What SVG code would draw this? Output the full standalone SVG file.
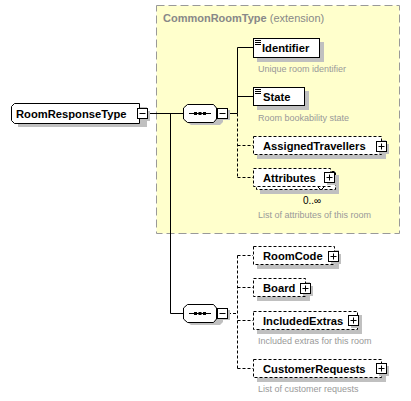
<svg xmlns="http://www.w3.org/2000/svg" width="411" height="401" viewBox="0 0 411 401">
<defs>
<style>
.lbl{font-family:"Liberation Sans",Arial,sans-serif;font-size:11.2px;font-weight:bold;fill:#000}
.desc{font-family:"Liberation Sans",Arial,sans-serif;font-size:9px;fill:#999}
.box{fill:#fff;stroke:#000;stroke-width:1}
.opt{fill:#fff;stroke:#000;stroke-width:1;stroke-dasharray:3,2}
.shd{fill:#c0c0c0}
.ln{stroke:#000;stroke-width:1;fill:none}
.dln{stroke:#000;stroke-width:1;fill:none;stroke-dasharray:3,2}
.btn{fill:#fff;stroke:#000;stroke-width:1}
</style>
</defs>
<rect x="0" y="0" width="411" height="401" fill="#fff"/>
<g id="extension">
<rect x="156.5" y="5.5" width="243" height="228" fill="#ffffcc" stroke="#999" stroke-dasharray="8,4"/>
<text x="163" y="22" font-family="Liberation Sans,Arial,sans-serif" font-size="11px" fill="#888"><tspan font-weight="bold">CommonRoomType</tspan> (extension)</text>
</g>
<g id="connectors">
<path class="ln" d="M148,113.5H183M170.5,113.5V313.5H183"/>
<path class="ln" d="M228,113.5H237.5V47.5H253M237.5,96.5H253"/>
<path class="dln" d="M237.5,113.5V177.5M237.5,145.5H253M237.5,177.5H253"/>
<path class="dln" d="M228,313.5H237.5M237.5,255.5V368.5M237.5,255.5H253M237.5,287.5H253M237.5,320.5H253M237.5,368.5H253"/>
</g>
<g id="RoomResponseType">
<path class="shd" d="M18,107H147V127H18Z"/>
<path d="M14.5,103.5H139.5V123.5H14.5L11.5,120.5V106.5Z" fill="#fff" stroke="#000"/>
<text class="lbl" x="16" y="117.5">RoomResponseType</text>
<rect class="shd" x="140" y="111" width="10" height="10"/>
<rect class="btn" x="137.5" y="108.5" width="10" height="10"/>
<path class="ln" d="M139.5,113.5H145.5"/>
</g>
<g id="seq1">
<path class="shd" d="M191,108H220L223,112V122L220,125H191L187,122V112Z"/>
<path d="M187.5,104.5H213.5L216.5,108V119L213.5,122.5H187.5L183.5,119V108Z" fill="#fff" stroke="#000"/>
<path class="ln" d="M189,113.5H211"/>
<rect x="194" y="112" width="3" height="3" fill="#000"/><rect x="198.5" y="112" width="3" height="3" fill="#000"/><rect x="203" y="112" width="3" height="3" fill="#000"/>
<rect class="shd" x="220" y="110" width="10" height="10"/>
<rect class="btn" x="217.5" y="108.5" width="10" height="10"/>
<path class="ln" d="M219.5,113.5H225.5"/>
</g>
<g id="Identifier">
<rect class="shd" x="257" y="42" width="67" height="20"/>
<rect class="box" x="253.5" y="38.5" width="66" height="19"/>
<path class="ln" d="M255,40.5H261M255,42.5H261M255,44.5H261"/>
<text class="lbl" x="262" y="52">Identifier</text>
<text class="desc" x="258" y="72">Unique room identifier</text>
</g>
<g id="State">
<rect class="shd" x="257" y="91" width="52" height="19"/>
<rect class="box" x="253.5" y="87.5" width="51" height="18"/>
<path class="ln" d="M255,89.5H261M255,91.5H261M255,93.5H261"/>
<text class="lbl" x="263" y="101">State</text>
<text class="desc" x="258" y="121">Room bookability state</text>
</g>
<g id="AssignedTravellers">
<rect class="shd" x="257" y="140" width="129" height="19"/>
<rect class="opt" x="253.5" y="136.5" width="128" height="18"/>
<text class="lbl" x="263" y="150">AssignedTravellers</text>
<rect class="shd" x="379" y="144" width="10" height="10"/>
<rect class="btn" x="376.5" y="141.5" width="10" height="10"/>
<path class="ln" d="M378.5,146.5H384.5M381.5,143.5V149.5"/>
</g>
<g id="Attributes">
<rect class="shd" x="260" y="175" width="79" height="19"/>
<rect class="opt" x="256.5" y="171.5" width="79" height="18"/>
<rect class="opt" x="253.5" y="168.5" width="77" height="18"/>
<text class="lbl" x="263" y="182">Attributes</text>
<path class="ln" d="M318,187L321,190L324,187"/>
<rect class="shd" x="327" y="175" width="10" height="10"/>
<rect class="btn" x="324.5" y="172.5" width="10" height="10"/>
<path class="ln" d="M326.5,177.5H332.5M329.5,174.5V180.5"/>
<text x="303" y="204" font-family="Liberation Sans,Arial,sans-serif" font-size="10px" fill="#000">0..∞</text>
<text class="desc" x="258" y="218">List of attributes of this room</text>
</g>
<g id="seq2">
<path class="shd" d="M191,308H220L223,312V322L220,325H191L187,322V312Z"/>
<path d="M187.5,304.5H213.5L216.5,308V319L213.5,322.5H187.5L183.5,319V308Z" fill="#fff" stroke="#000"/>
<path class="ln" d="M189,313.5H211"/>
<rect x="194" y="312" width="3" height="3" fill="#000"/><rect x="198.5" y="312" width="3" height="3" fill="#000"/><rect x="203" y="312" width="3" height="3" fill="#000"/>
<rect class="shd" x="220" y="310" width="10" height="10"/>
<rect class="btn" x="217.5" y="308.5" width="10" height="10"/>
<path class="ln" d="M219.5,313.5H225.5"/>
</g>
<g id="RoomCode">
<rect class="shd" x="257" y="250" width="82" height="19"/>
<rect class="opt" x="253.5" y="246.5" width="81" height="18"/>
<text class="lbl" x="263" y="260">RoomCode</text>
<rect class="shd" x="331" y="254" width="10" height="10"/>
<rect class="btn" x="328.5" y="251.5" width="10" height="10"/>
<path class="ln" d="M330.5,256.5H336.5M333.5,253.5V259.5"/>
</g>
<g id="Board">
<rect class="shd" x="257" y="282" width="53" height="19"/>
<rect class="opt" x="253.5" y="278.5" width="52" height="18"/>
<text class="lbl" x="263" y="292">Board</text>
<rect class="shd" x="303" y="286" width="10" height="10"/>
<rect class="btn" x="300.5" y="283.5" width="10" height="10"/>
<path class="ln" d="M302.5,288.5H308.5M305.5,285.5V291.5"/>
</g>
<g id="IncludedExtras">
<rect class="shd" x="257" y="315" width="105" height="19"/>
<rect class="opt" x="253.5" y="311.5" width="104" height="18"/>
<text class="lbl" x="263" y="325">IncludedExtras</text>
<rect class="shd" x="351" y="318" width="10" height="10"/>
<rect class="btn" x="348.5" y="315.5" width="10" height="10"/>
<path class="ln" d="M350.5,320.5H356.5M353.5,317.5V323.5"/>
<text class="desc" x="258" y="344">Included extras for this room</text>
</g>
<g id="CustomerRequests">
<rect class="shd" x="257" y="363" width="129" height="19"/>
<rect class="opt" x="253.5" y="359.5" width="128" height="18"/>
<text class="lbl" x="263" y="373">CustomerRequests</text>
<rect class="shd" x="379" y="366" width="10" height="10"/>
<rect class="btn" x="376.5" y="363.5" width="10" height="10"/>
<path class="ln" d="M378.5,368.5H384.5M381.5,365.5V371.5"/>
<text class="desc" x="258" y="392">List of customer requests</text>
</g>
</svg>
